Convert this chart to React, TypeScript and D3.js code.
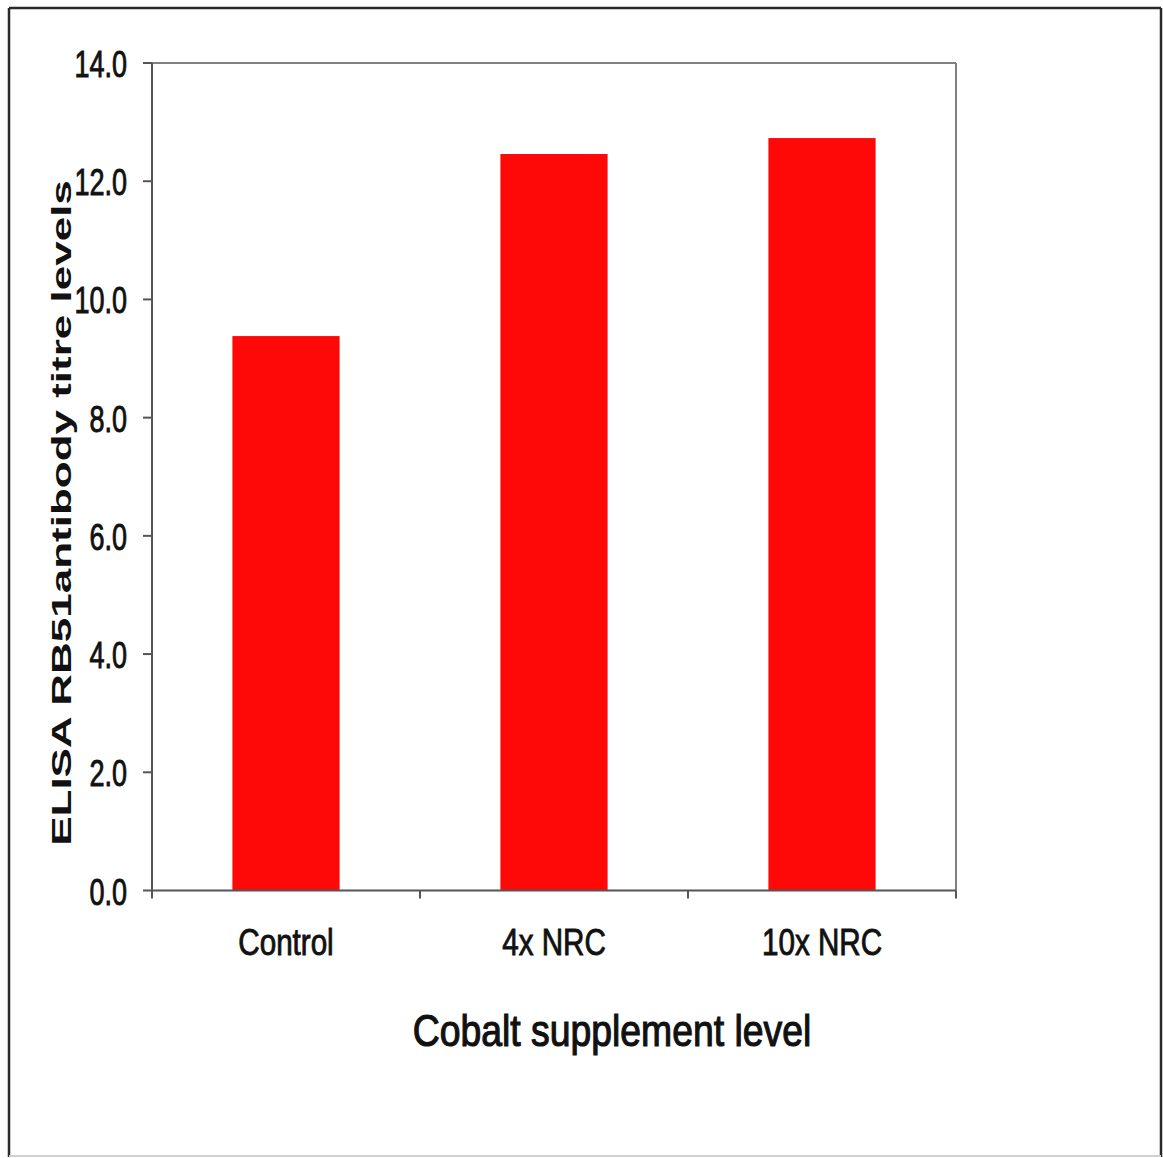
import React from "react";
import * as d3 from "d3";

const categories = ["Control", "4x NRC", "10x NRC"];
const values = [9.38, 12.46, 12.73];
const yTicks = [0, 2, 4, 6, 8, 10, 12, 14];
const yLabel = "ELISA RB51antibody titre levels";
const xLabel = "Cobalt supplement level";

const W = 1163;
const H = 1158;
const plot = { left: 152, right: 956, top: 63, bottom: 890.5 };
const FONT = "'Liberation Sans', Arial, sans-serif";

export default function App() {
  const x = d3
    .scaleBand<string>()
    .domain(categories)
    .range([plot.left, plot.right])
    .paddingInner(0.6)
    .paddingOuter(0.3);
  const y = d3.scaleLinear().domain([0, 14]).range([plot.bottom, plot.top]);
  const step = x.step();
  const boundaries = d3.range(categories.length + 1).map((i) => plot.left + i * step);

  return (
    <svg
      width={W}
      height={H}
      style={{ position: "absolute", left: 0, top: 0, display: "block", background: "#fff" }}
    >
      {/* outer frame */}
      <line x1={9} y1={8} x2={1161} y2={8} stroke="#2a2a2a" strokeWidth={2.5} />
      <line x1={9} y1={8} x2={9} y2={1157} stroke="#2a2a2a" strokeWidth={2.5} />
      <line x1={1161} y1={8} x2={1161} y2={1157} stroke="#2a2a2a" strokeWidth={2.5} />
      <line x1={9} y1={1156} x2={1161} y2={1156} stroke="#d0d0d0" strokeWidth={2} />

      {/* plot frame top/right */}
      <line x1={plot.left} y1={plot.top} x2={plot.right} y2={plot.top} stroke="#808080" strokeWidth={2} />
      <line x1={plot.right} y1={plot.top} x2={plot.right} y2={plot.bottom} stroke="#808080" strokeWidth={2} />

      {/* bars */}
      {categories.map((c, i) => (
        <rect
          key={c}
          x={x(c)}
          y={y(values[i])}
          width={x.bandwidth()}
          height={y(0) - y(values[i])}
          fill="#fe0808"
        />
      ))}

      {/* y axis */}
      <line x1={plot.left} y1={plot.top} x2={plot.left} y2={plot.bottom} stroke="#555" strokeWidth={2} />
      {yTicks.map((t) => (
        <g key={t}>
          <line x1={plot.left - 9} x2={plot.left} y1={y(t)} y2={y(t)} stroke="#555" strokeWidth={2} />
          <text
            transform={`translate(127,${y(t) + 14}) scale(0.75,1)`}
            textAnchor="end"
            fontFamily={FONT}
            fontSize={36}
            fill="#111"
            stroke="#111"
            strokeWidth={0.9}
          >
            {t.toFixed(1)}
          </text>
        </g>
      ))}

      {/* x axis */}
      <line x1={plot.left} y1={plot.bottom} x2={plot.right} y2={plot.bottom} stroke="#555" strokeWidth={2} />
      {boundaries.map((b, i) => (
        <line key={i} x1={b} x2={b} y1={plot.bottom} y2={plot.bottom + 8} stroke="#555" strokeWidth={2} />
      ))}
      {categories.map((c) => (
        <text
          key={c}
          transform={`translate(${(x(c) as number) + x.bandwidth() / 2},955) scale(0.8,1)`}
          textAnchor="middle"
          fontFamily={FONT}
          fontSize={37}
          fill="#111"
          stroke="#111"
          strokeWidth={0.9}
        >
          {c}
        </text>
      ))}

      {/* axis titles */}
      <text
        transform={`translate(612,1046) scale(0.83,1)`}
        textAnchor="middle"
        fontFamily={FONT}
        fontSize={45}
        fill="#111"
        stroke="#111"
        strokeWidth={1.2}
      >
        {xLabel}
      </text>
      <text
        transform={`translate(71,513) scale(0.62,1) rotate(-90)`}
        textAnchor="middle"
        fontFamily={FONT}
        fontWeight="bold"
        fontSize={44}
        fill="#111"
      >
        {yLabel}
      </text>
    </svg>
  );
}
